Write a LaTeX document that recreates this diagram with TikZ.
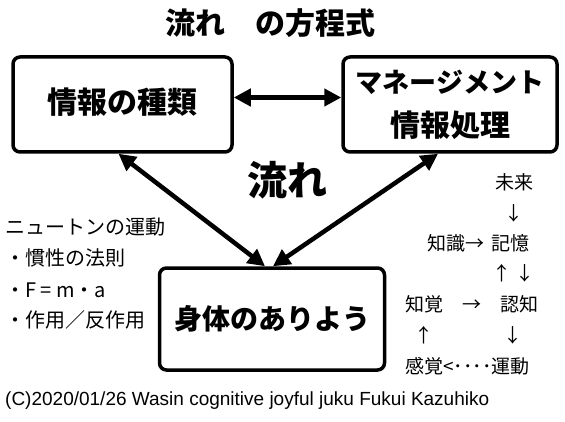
\documentclass[tikz,border=0pt]{standalone}
\usepackage{fontspec}
\setmainfont{Liberation Sans}
\newfontfamily\jp{Noto Sans CJK JP}
\usetikzlibrary{arrows.meta,positioning}
\tikzset{
  box/.style={draw, line width=3.5pt, rounded corners=7pt, align=center, font=\jp\bfseries\fontsize{30}{40}\selectfont},
  flow/.style={{Triangle[length=17pt,width=17pt]}-{Triangle[length=17pt,width=17pt]}, line width=4.5pt},
  note/.style={anchor=west, inner sep=0pt, font=\jp\fontsize{19}{22}\selectfont}
}

\begin{document}
\begin{tikzpicture}[x=1pt,y=-1pt]
\useasboundingbox (0,0) rectangle (565,422);
% title
\node[font=\jp\bfseries\fontsize{30}{34}\selectfont] (title) at (270,23) {流れ　の方程式};
% three boxes
\node[box, minimum width=219pt, minimum height=95pt] (info) at (122.5,104.5) {\raisebox{7pt}{情報の種類}};
\node[box, minimum width=214pt, minimum height=95pt, font=\jp\bfseries\fontsize{27}{44}\selectfont] (mgmt) at (450,104.5) {マネージメント\\{\fontsize{30}{30}\selectfont 情報処理}};
\node[box, minimum width=225pt, minimum height=102pt, font=\jp\bfseries\fontsize{28}{34}\selectfont] (body) at (272,319) {身体のありよう};
\node[font=\jp\bfseries\fontsize{40}{44}\selectfont] (flowlbl) at (287,180) {流れ};
% arrows
\draw[flow] ([yshift=7pt]info.east) -- ([yshift=7pt]mgmt.west);
\draw[flow] ([xshift=-4pt]info.south) -- ([xshift=-7pt]body.north);
\draw[flow] ([xshift=-12pt]mgmt.south) -- ([xshift=1pt]body.north);
% newton
\node[note, font=\jp\fontsize{20}{22}\selectfont] (n1) at (5,227) {ニュートンの運動};
\node[note, font=\jp\fontsize{20}{22}\selectfont] (n2) at (5,258) {・慣性の法則};
\node[note, font=\jp\fontsize{20}{22}\selectfont] (n3) at (5,290) {・F = m・a};
\node[note, font=\jp\fontsize{20}{22}\selectfont] (n4) at (5,320) {・作用／反作用};
% cognition
\node[note] (c1) at (495,182) {未来};
\node[note] (c2) at (504,213) {↓};
\node[note] (c3) at (427,243) {知識→\hspace{7pt}記憶};
\node[note] (c4) at (492,273) {↑ ↓};
\node[note] (c5) at (405,304) {知覚　→　認知};
\node[note] (c6) at (414,335) {↑};
\node[note] (c7) at (503,335) {↓};
\node[note] (c8) at (405,366) {感覚<････運動};
% footer
\node[anchor=west, inner sep=0pt, font=\fontsize{19}{21}\selectfont] (credit) at (5,401) {(C)2020/01/26 Wasin cognitive joyful juku Fukui Kazuhiko};
\end{tikzpicture}
\end{document}
